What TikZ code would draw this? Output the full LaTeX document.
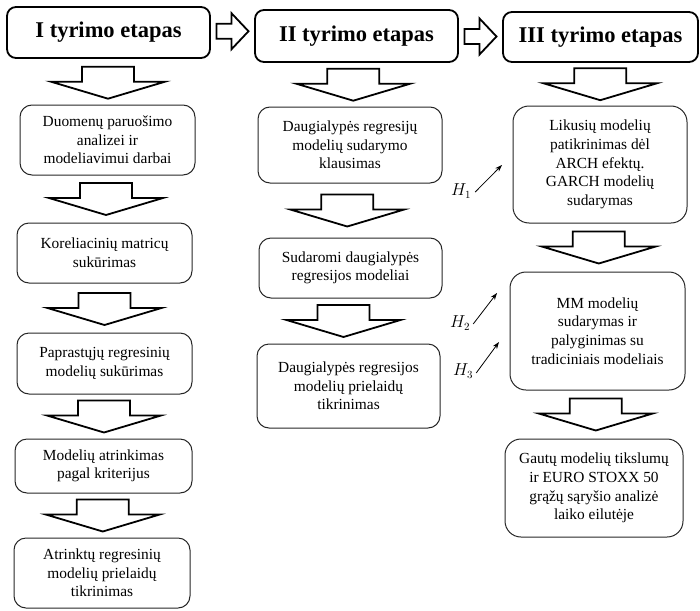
\documentclass[tikz,border=0pt]{standalone}
\usepackage{fontspec}
\setmainfont{Liberation Serif}
\usetikzlibrary{calc,arrows.meta}

\tikzset{
  stage/.style={draw=black, line width=1.8pt, rounded corners=9pt, inner sep=0pt,
    font=\fontsize{22.5}{26}\selectfont\bfseries},
  stepbox/.style={draw=black!85, line width=1pt, rounded corners=12pt, inner sep=0pt,
    align=center, font=\fontsize{15.4}{18.6}\selectfont},
  blk/.style={draw=black, fill=white, line width=1.8pt, line join=miter},
  hlabel/.style={inner sep=1pt, font=\fontsize{16}{18}\selectfont},
  harrow/.style={-{Stealth[length=7pt,width=5pt]}, line width=0.8pt},
  downblock/.pic={\draw[blk] (-26,-16) -- (26,-16) -- (26,-1) -- (57,-1) -- (0,16)
     -- (-57,-1) -- (-26,-1) -- cycle;},
  rightblock/.pic={\draw[blk] (-16,-7.5) -- (-1,-7.5) -- (-1,-18) -- (16,0)
     -- (-1,18) -- (-1,7.5) -- (-16,7.5) -- cycle;}
}

\begin{document}
\begin{tikzpicture}[x=1pt, y=-1pt]
\useasboundingbox (0,0) rectangle (700,610);

% stage headers
\node[stage, minimum width=203pt, minimum height=51pt] (h1) at (108.5,32.5) {I tyrimo etapas};
\node[stage, minimum width=203pt, minimum height=52pt] (h2) at (356.5,36) {II tyrimo etapas};
\node[stage, minimum width=195pt, minimum height=50pt] (h3) at (600.5,37) {III tyrimo etapas};

% first stage
\node[stepbox, minimum width=175pt, minimum height=70pt] (b11) at (107.5,140)
  {Duomenų paruošimo\\analizei ir\\modeliavimui darbai};
\node[stepbox, minimum width=175pt, minimum height=60pt] (b12) at (104.5,253)
  {Koreliacinių matricų\\sukūrimas};
\node[stepbox, minimum width=175pt, minimum height=61pt] (b13) at (104.5,363.5)
  {Paprastųjų regresinių\\modelių sukūrimas};
\node[stepbox, minimum width=177pt, minimum height=54pt] (b14) at (103.5,466)
  {Modelių atrinkimas\\pagal kriterijus};
\node[stepbox, minimum width=176pt, minimum height=70pt] (b15) at (102,573)
  {Atrinktų regresinių\\modelių prielaidų\\tikrinimas};

% second stage
\node[stepbox, minimum width=184pt, minimum height=76pt] (b21) at (350,145)
  {Daugialypės regresijų\\modelių sudarymo\\klausimas};
\node[stepbox, minimum width=183pt, minimum height=60pt] (b22) at (350.5,268)
  {Sudaromi daugialypės\\regresijos modeliai};
\node[stepbox, minimum width=183pt, minimum height=84pt] (b23) at (348.5,386)
  {Daugialypės regresijos\\modelių prielaidų\\tikrinimas};

% third stage
\node[stepbox, rounded corners=16pt, minimum width=174pt, minimum height=117pt] (b31) at (600,164.5)
  {Likusių modelių\\patikrinimas dėl\\ARCH efektų.\\GARCH modelių\\sudarymas};
\node[stepbox, rounded corners=16pt, minimum width=175pt, minimum height=118pt] (b32) at (597.5,331)
  {MM modelių\\sudarymas ir\\palyginimas su\\tradiciniais modeliais};
\node[stepbox, rounded corners=16pt, minimum width=178pt, minimum height=98pt] (b33) at (594,488)
  {Gautų modelių tikslumų\\ir EURO STOXX 50\\grąžų sąryšio analizė\\laiko eilutėje};

% arrows between stages
\pic at ($(h1.east)!0.5!(h2.west)+(0,-3)$) {rightblock};
\pic at ($(h2.east)!0.5!(h3.west)$) {rightblock};

% arrows inside the first stage
\pic at ($(h1.south)!0.5!(b11.north)+(0,1)$) {downblock};
\pic at ($(b11.south)!0.5!(b12.north)$) {downblock};
\pic at ($(b12.south)!0.5!(b13.north)+(0,1)$) {downblock};
\pic at ($(b13.south)!0.5!(b14.north)$) {downblock};
\pic at ($(b14.south)!0.5!(b15.north)$) {downblock};

% arrows inside the second stage
\pic at ($(h2.south)!0.5!(b21.north)$) {downblock};
\pic at ($(b21.south)!0.5!(b22.north)+(-3,0)$) {downblock};
\pic at ($(b22.south)!0.5!(b23.north)+(-6,0)$) {downblock};

% arrows inside the third stage
\pic at ($(h3.south)!0.5!(b31.north)$) {downblock};
\pic at ($(b31.south)!0.5!(b32.north)$) {downblock};
\pic at ($(b32.south)!0.5!(b33.north)$) {downblock};

% hypotheses
\node[hlabel] (hy1) at (461,191) {$H_1$};
\node[hlabel] (hy2) at (460,323) {$H_2$};
\node[hlabel] (hy3) at (463,371) {$H_3$};
\coordinate (hy1tip) at (502,165);
\coordinate (hy2tip) at (497,293);
\coordinate (hy3tip) at (499,342);
\draw[harrow] ([xshift=3pt,yshift=-1pt]hy1.east) -- (hy1tip);
\draw[harrow] ([xshift=2pt,yshift=-1pt]hy2.east) -- (hy2tip);
\draw[harrow] ([xshift=2pt,yshift=-2pt]hy3.east) -- (hy3tip);
\end{tikzpicture}
\end{document}
